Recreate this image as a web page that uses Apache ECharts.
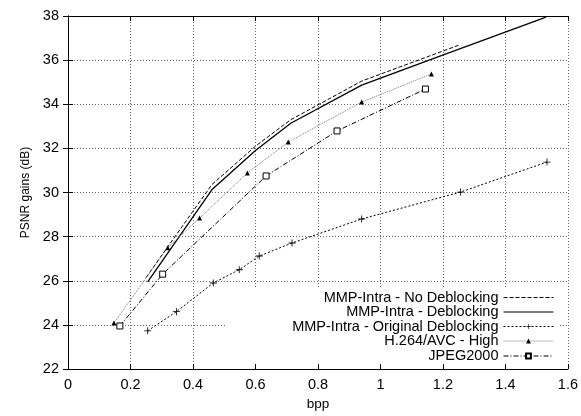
<!DOCTYPE html>
<html>
<head>
    <meta charset="utf-8">
    <title>PSNR vs bpp</title>
    <style>
        html, body { margin: 0; padding: 0; background: #fff; }
        #chart { width: 581px; height: 416px; }
    </style>
</head>
<body>
<div id="chart"></div>
<script src="https://cdn.jsdelivr.net/npm/echarts@6/dist/echarts.min.js"></script>
<script>
    // 坐标轴刻度
    var xTicks = [0, 0.2, 0.4, 0.6, 0.8, 1, 1.2, 1.4, 1.6];
    var yTicks = [22, 24, 26, 28, 30, 32, 34, 36, 38];

    // MMP-Intra - No Deblocking
    var noDebX = [0.250, 0.460, 0.600, 0.713, 0.940, 1.255];
    var noDebY = [26.15, 30.35, 32.10, 33.30, 35.05, 36.70];
    // MMP-Intra - Deblocking
    var debX = [0.255, 0.462, 0.600, 0.713, 0.940, 1.160, 1.530];
    var debY = [25.95, 30.15, 31.90, 33.14, 34.87, 36.02, 37.95];
    // MMP-Intra - Original Deblocking
    var origX = [0.255, 0.347, 0.465, 0.548, 0.612, 0.717, 0.940, 1.256, 1.533];
    var origY = [23.73, 24.60, 25.90, 26.50, 27.12, 27.71, 28.80, 30.02, 31.38];
    // H.264/AVC - High
    var h264X = [0.147, 0.319, 0.421, 0.574, 0.705, 0.940, 1.163];
    var h264Y = [24.08, 27.50, 28.84, 30.88, 32.29, 34.10, 35.37];
    // JPEG2000
    var jpegX = [0.166, 0.303, 0.634, 0.861, 1.144];
    var jpegY = [23.95, 26.30, 30.75, 32.79, 34.69];

    var names = ['MMP-Intra - No Deblocking', 'MMP-Intra - Deblocking',
        'MMP-Intra - Original Deblocking', 'H.264/AVC - High', 'JPEG2000'];

    function pairs(xs, ys) {
        var out = [];
        for (var i = 0; i < xs.length; i++) {
            out.push([xs[i], ys[i]]);
        }
        return out;
    }

    var font = 'Liberation Sans, Arial, sans-serif';
    var plusPath = 'path://M4.4,0H5.6V4.4H10V5.6H5.6V10H4.4V5.6H0V4.4H4.4Z';

    var chart = echarts.init(document.getElementById('chart'));

    function axisBase(extra) {
        var a = {
            type: 'value',
            axisLine: {show: true, lineStyle: {color: '#000', width: 1}},
            axisTick: {show: true, inside: true, length: 5, lineStyle: {color: '#000'}},
            splitLine: {show: false},
            axisLabel: {show: false}
        };
        for (var k in extra) a[k] = extra[k];
        return a;
    }

    // 每个图例单独一个组件，右对齐
    var legends = [];
    var legendTops = [290, 304.5, 319, 333.5, 348.5];
    for (var i = 0; i < names.length; i++) {
        var lg = {
            data: [names[i]],
            right: 27,
            top: legendTops[i],
            align: 'right',
            padding: 0,
            itemWidth: 50,
            itemHeight: 6,
            lineStyle: {width: 1},
            textStyle: {fontFamily: font, fontSize: 14.5, color: '#000'}
        };
        if (i < 2) {
            lg.itemStyle = {color: 'rgba(0,0,0,0)', borderColor: 'rgba(0,0,0,0)', borderWidth: 0};
        }
        legends.push(lg);
    }

    chart.setOption({
        animation: false,
        backgroundColor: '#fff',
        grid: {left: 68, right: 11, top: 16, bottom: 47},
        legend: legends,
        graphic: {
            elements: [{
                type: 'rect',
                z: 1,
                left: 225,
                top: 288,
                shape: {width: 333, height: 76},
                style: {fill: '#fff'},
                silent: true
            }]
        },
        xAxis: [
            axisBase({
                min: xTicks[0], max: xTicks[xTicks.length - 1], interval: 0.2,
                position: 'bottom',
                name: 'bpp', nameLocation: 'middle', nameGap: 26,
                nameTextStyle: {fontFamily: font, fontSize: 13.5, color: '#000'},
                axisLabel: {show: true, margin: 8, fontFamily: font, fontSize: 14.5, color: '#000'},
                splitLine: {show: true, lineStyle: {color: '#666', type: [1, 2], width: 1}}
            }),
            axisBase({
                min: xTicks[0], max: xTicks[xTicks.length - 1], interval: 0.2,
                position: 'top'
            })
        ],
        yAxis: [
            axisBase({
                min: yTicks[0], max: yTicks[yTicks.length - 1], interval: 2,
                position: 'left',
                name: 'PSNR gains (dB)', nameLocation: 'middle', nameGap: 36,
                nameTextStyle: {fontFamily: font, fontSize: 12, color: '#000'},
                axisLabel: {show: true, margin: 9, fontFamily: font, fontSize: 14.5, color: '#000'},
                splitLine: {show: true, lineStyle: {color: '#666', type: [1, 2], width: 1}}
            }),
            axisBase({
                min: yTicks[0], max: yTicks[yTicks.length - 1], interval: 2,
                position: 'right'
            })
        ],
        series: [
            {
                name: names[0],
                type: 'line',
                symbol: 'none',
                z: 3,
                lineStyle: {color: '#000', width: 1, type: [4, 2]},
                itemStyle: {color: '#000'},
                data: pairs(noDebX, noDebY)
            },
            {
                name: names[1],
                type: 'line',
                symbol: 'none',
                z: 3,
                lineStyle: {color: '#000', width: 1.3, type: 'solid'},
                itemStyle: {color: '#000'},
                data: pairs(debX, debY)
            },
            {
                name: names[2],
                type: 'line',
                symbol: plusPath,
                symbolSize: 7,
                z: 3,
                lineStyle: {color: '#000', width: 1, type: [2, 2]},
                itemStyle: {color: '#000'},
                data: pairs(origX, origY)
            },
            {
                name: names[3],
                type: 'line',
                symbol: 'triangle',
                symbolSize: 5,
                z: 3,
                lineStyle: {color: '#777', width: 1, type: [1, 1]},
                itemStyle: {color: '#000'},
                data: pairs(h264X, h264Y)
            },
            {
                name: names[4],
                type: 'line',
                symbol: 'rect',
                symbolSize: 6,
                z: 3,
                lineStyle: {color: '#000', width: 1, type: [5, 2, 1, 2]},
                itemStyle: {color: '#fff', borderColor: '#000', borderWidth: 1},
                data: pairs(jpegX, jpegY)
            }
        ]
    });
</script>
</body>
</html>
